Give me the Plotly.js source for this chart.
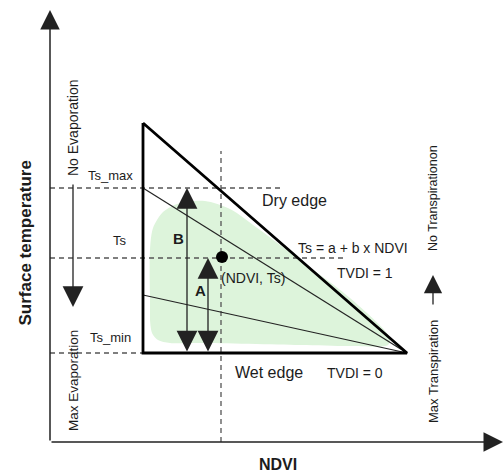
<!DOCTYPE html>
<html>
<head>
<meta charset="utf-8">
<script src="https://cdn.plot.ly/plotly-3.0.1.min.js"></script>
<style>html,body{margin:0;padding:0;background:#fff;}#chart{width:504px;height:475px;}</style>
</head>
<body>
<div id="chart"></div>
<script>
// Diagram coordinates: origin at the axes' intersection, NDVI to the right, Ts upward.
const ndviMin = 93;      // left side of the triangle
const ndviMax = 357;     // right vertex of the triangle
const ndviPoint = 171;   // NDVI of the pixel (vertical dashed line)
const tsTop = 319;       // top of the dry edge
const tsMax = 254;       // Ts_max
const tsVal = 184;       // Ts of the pixel
const tsMin = 89;        // Ts_min (wet edge)
const tsLowLine = 147;   // left end of the lower isoline

const triangleX = [ndviMin, ndviMin, ndviMax, ndviMin];
const triangleY = [tsTop, tsMin, tsMin, tsTop];

const midLineX = [ndviMin, ndviMax];
const midLineY = [tsMax, tsMin];
const lowLineX = [ndviMin, ndviMax];
const lowLineY = [tsLowLine, tsMin];

const blobX = [100, 100, 103, 113, 130, 155, 180, 210, 250, 300, 340, 338, 300, 250, 150, 120, 108, 102, 100];
const blobY = [142, 192, 214, 230, 239, 241, 233, 212, 182, 144, 104, 97, 96, 97, 99, 99, 102, 109, 122];

const pointNDVI = [172];
const pointTs = [185];

const xAxisEnd = 453;
const yAxisEnd = 432;
const arrowB = {x: 137, from: tsMin, to: tsMax};
const arrowA = {x: 158, from: tsMin, to: tsVal};
const evapArrow = {x: 23, from: 259, to: 135};
const transArrow = {x: 383, from: 136, to: 167};

const FONT = 'Liberation Sans, Arial, sans-serif';
const TXT = '#1c1c1c';
const DASH = '#555555';

const traces = [
  {x: blobX, y: blobY, mode: 'lines', fill: 'toself', fillcolor: '#ddf4db',
   line: {color: 'rgba(0,0,0,0)', width: 0, shape: 'spline', smoothing: 0.8}},
  // dashed guides
  {x: [0, 232], y: [tsMax, tsMax], mode: 'lines', line: {color: DASH, width: 1.3, dash: '5px,4px'}},
  {x: [0, 297], y: [tsVal, tsVal], mode: 'lines', line: {color: DASH, width: 1.3, dash: '5px,4px'}},
  {x: [0, ndviMin], y: [tsMin, tsMin], mode: 'lines', line: {color: DASH, width: 1.3, dash: '5px,4px'}},
  {x: [ndviPoint, ndviPoint], y: [0, 291], mode: 'lines', line: {color: DASH, width: 1.3, dash: '5px,4px'}},
  // isolines
  {x: midLineX, y: midLineY, mode: 'lines', line: {color: '#222', width: 1.2}},
  {x: lowLineX, y: lowLineY, mode: 'lines', line: {color: '#222', width: 1.2}},
  // triangle
  {x: triangleX, y: triangleY, mode: 'lines', line: {color: '#000', width: 2.8}},
  // pixel point
  {x: pointNDVI, y: pointTs, mode: 'markers', marker: {color: '#000', size: 12}}
];

function arrow(x0, y0, x1, y1, w, s, both) {
  return {x: x1, y: y1, ax: x0, ay: y0, xref: 'x', yref: 'y', axref: 'x', ayref: 'y',
    text: '', showarrow: true, arrowhead: 2, startarrowhead: 2, arrowwidth: w, arrowsize: s,
    startarrowsize: s, arrowside: both ? 'end+start' : 'end', arrowcolor: '#222', standoff: 0, startstandoff: 0};
}
function label(x, y, t, size, opts) {
  return Object.assign({x: x, y: y, xref: 'x', yref: 'y', text: t, showarrow: false,
    font: {family: FONT, size: size, color: TXT}, xanchor: 'center', yanchor: 'middle'}, opts || {});
}

const annotations = [
  arrow(0, 0, xAxisEnd, 0, 1.5, 2.6, false),
  arrow(0, 0, 0, yAxisEnd, 1.5, 2.6, false),
  arrow(arrowB.x, arrowB.from, arrowB.x, arrowB.to, 1.3, 3.2, true),
  arrow(arrowA.x, arrowA.from, arrowA.x, arrowA.to, 1.3, 3.2, true),
  arrow(evapArrow.x, evapArrow.from, evapArrow.x, evapArrow.to, 1.3, 3.2, false),
  arrow(transArrow.x, transArrow.from, transArrow.x, transArrow.to, 1.3, 2.8, false),
  label(60, 267, 'Ts_max', 13),
  label(70, 202, 'Ts', 13),
  label(60, 105, 'Ts_min', 13),
  label(128, 204, '<b>B</b>', 15),
  label(150, 152, '<b>A</b>', 15),
  label(203, 164, '(NDVI, Ts)', 14),
  label(244, 242, 'Dry edge', 16),
  label(303, 194, 'Ts = a + b x NDVI', 14),
  label(315, 169, 'TVDI = 1', 14),
  label(219, 70, 'Wet edge', 16),
  label(305, 69, 'TVDI = 0', 14),
  label(23, 314, 'No Evaporation', 14, {textangle: -90}),
  label(23, 61, 'Max Evaporation', 13.5, {textangle: -90}),
  label(383, 244, 'No Transpirationon', 12.5, {textangle: -90}),
  label(383, 70, 'Max Transpiration', 13, {textangle: -90}),
  label(-25, 198.5, '<b>Surface temperature</b>', 17, {textangle: -90}),
  label(228, -22, '<b>NDVI</b>', 16)
];

const layout = {
  width: 504, height: 475,
  margin: {l: 0, r: 0, t: 0, b: 0, pad: 0},
  paper_bgcolor: '#fff', plot_bgcolor: '#fff',
  showlegend: false,
  xaxis: {range: [-50, 454], visible: false, fixedrange: true},
  yaxis: {range: [-33, 442], visible: false, fixedrange: true},
  annotations: annotations,
  hovermode: false
};

Plotly.newPlot('chart', traces, layout, {displayModeBar: false, staticPlot: true});
</script>
</body>
</html>
